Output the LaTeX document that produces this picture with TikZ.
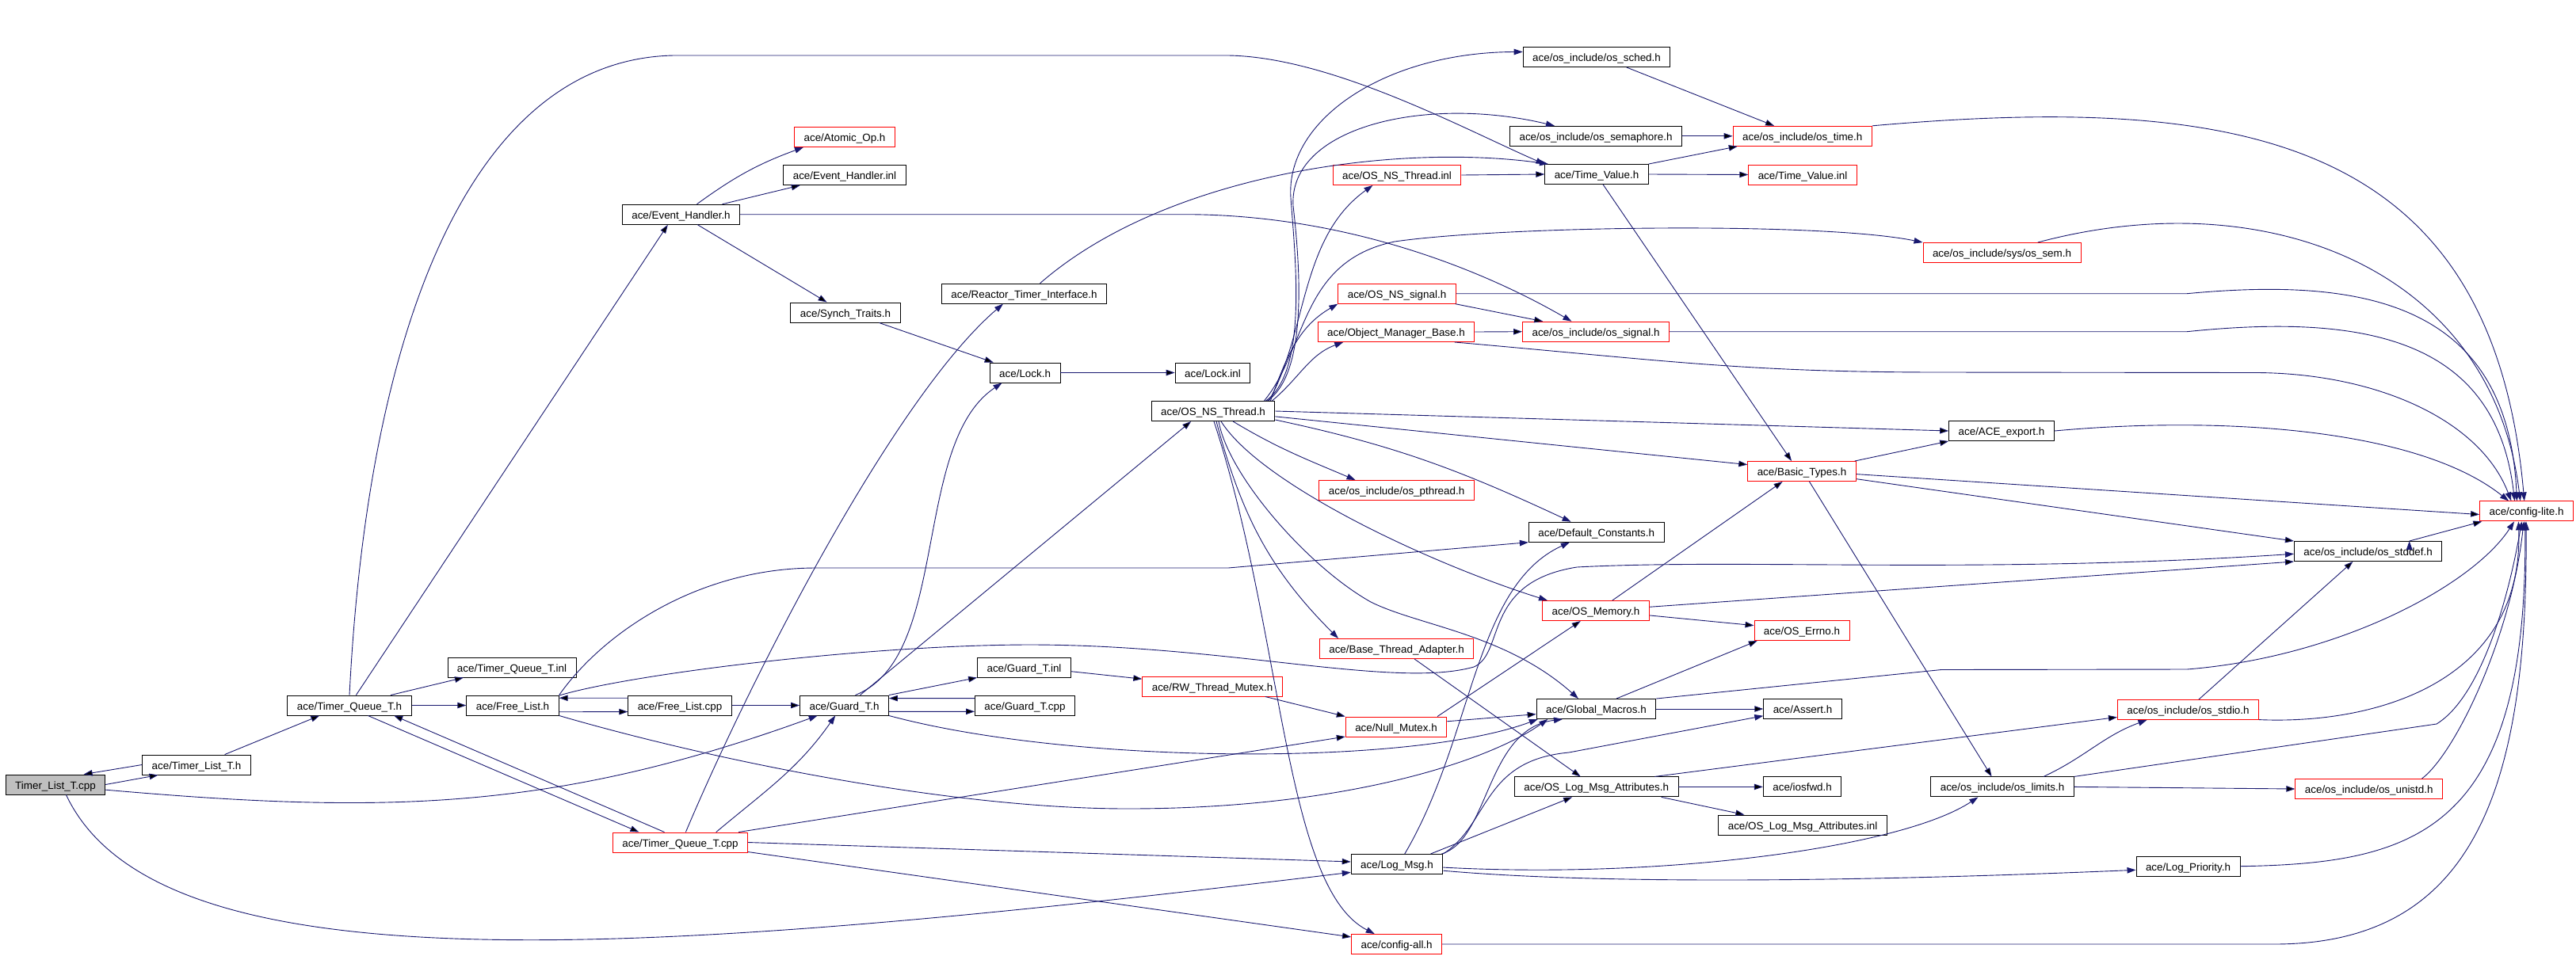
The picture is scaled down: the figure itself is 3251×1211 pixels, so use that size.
\documentclass[tikz,border=0pt]{standalone}
\usepackage{fontspec}
\setmainfont{Liberation Sans}
\usetikzlibrary{arrows.meta}
\definecolor{incl}{HTML}{191970}

\begin{document}
\begin{tikzpicture}[x=1pt, y=1pt,
    incfile/.style={draw=black, fill=white, line width=0.95pt, rectangle, minimum height=25pt,
        inner xsep=12pt, inner ysep=0pt, text height=11pt, text depth=0pt,
        font=\fontsize{13.4}{15}\selectfont},
    redinc/.style={incfile, draw=red},
    srcfile/.style={incfile, fill=black!25},
    dep/.style={draw=incl, line width=0.9pt, -{Triangle[length=11pt,width=7.5pt]}}]
    \useasboundingbox (0,0) rectangle (3251,-1211);

    \node [srcfile] (tlcpp) at (70,-990.5) {Timer\_List\_T.cpp};
    \node [incfile] (tlh) at (248,-965.5) {ace/Timer\_List\_T.h};
    \node [incfile] (tqh) at (441,-890.5) {ace/Timer\_Queue\_T.h};
    \node [incfile] (tqinl) at (646,-842.5) {ace/Timer\_Queue\_T.inl};
    \node [incfile] (flh) at (647,-890.5) {ace/Free\_List.h};
    \node [redinc] (tqcpp) at (858.5,-1063.5) {ace/Timer\_Queue\_T.cpp};
    \node [incfile] (flcpp) at (858,-890.5) {ace/Free\_List.cpp};
    \node [incfile] (gth) at (1065.5,-890.5) {ace/Guard\_T.h};
    \node [incfile] (gtinl) at (1292.5,-842.5) {ace/Guard\_T.inl};
    \node [incfile] (gtcpp) at (1293.5,-890.5) {ace/Guard\_T.cpp};
    \node [redinc] (rwm) at (1530,-866.5) {ace/RW\_Thread\_Mutex.h};
    \node [redinc] (atomic) at (1066,-173) {ace/Atomic\_Op.h};
    \node [incfile] (ehinl) at (1066,-221) {ace/Event\_Handler.inl};
    \node [incfile] (eh) at (859.5,-270.7) {ace/Event\_Handler.h};
    \node [incfile] (synch) at (1067,-394.5) {ace/Synch\_Traits.h};
    \node [incfile] (rti) at (1292.5,-370.7) {ace/Reactor\_Timer\_Interface.h};
    \node [incfile] (lockh) at (1293.6,-470.5) {ace/Lock.h};
    \node [incfile] (lockinl) at (1530.5,-470.5) {ace/Lock.inl};
    \node [incfile] (osnsth) at (1531,-519) {ace/OS\_NS\_Thread.h};
    \node [incfile] (sched) at (2015,-72) {ace/os\_include/os\_sched.h};
    \node [incfile] (sema) at (2014,-171.8) {ace/os\_include/os\_semaphore.h};
    \node [redinc] (ostime) at (2274.7,-171.8) {ace/os\_include/os\_time.h};
    \node [redinc] (nsinl) at (1763,-221) {ace/OS\_NS\_Thread.inl};
    \node [incfile] (tv) at (2015,-220) {ace/Time\_Value.h};
    \node [redinc] (tvinl) at (2275,-220.5) {ace/Time\_Value.inl};
    \node [redinc] (nssig) at (1763,-370.7) {ace/OS\_NS\_signal.h};
    \node [redinc] (omb) at (1762,-419) {ace/Object\_Manager\_Base.h};
    \node [redinc] (ossig) at (2014,-418.7) {ace/os\_include/os\_signal.h};
    \node [redinc] (ossem) at (2526.5,-319) {ace/os\_include/sys/os\_sem.h};
    \node [incfile] (export) at (2526,-544) {ace/ACE\_export.h};
    \node [redinc] (bt) at (2274,-595) {ace/Basic\_Types.h};
    \node [redinc] (pthread) at (1762.6,-619) {ace/os\_include/os\_pthread.h};
    \node [incfile] (defc) at (2014.7,-671.7) {ace/Default\_Constants.h};
    \node [redinc] (osmem) at (2014,-771) {ace/OS\_Memory.h};
    \node [redinc] (errno) at (2274,-796) {ace/OS\_Errno.h};
    \node [redinc] (bta) at (1762.6,-819) {ace/Base\_Thread\_Adapter.h};
    \node [incfile] (gm) at (2014.4,-895) {ace/Global\_Macros.h};
    \node [incfile] (assert) at (2275,-895) {ace/Assert.h};
    \node [redinc] (nullm) at (1762,-917.5) {ace/Null\_Mutex.h};
    \node [incfile] (olma) at (2014.7,-993.4) {ace/OS\_Log\_Msg\_Attributes.h};
    \node [incfile] (iosfwd) at (2274.6,-993.4) {ace/iosfwd.h};
    \node [incfile] (olmainl) at (2275,-1041.5) {ace/OS\_Log\_Msg\_Attributes.inl};
    \node [incfile] (logmsg) at (1763,-1091) {ace/Log\_Msg.h};
    \node [redinc] (cfgall) at (1762.6,-1192) {ace/config-all.h};
    \node [redinc] (cfglite) at (3188.5,-645.4) {ace/config-lite.h};
    \node [incfile] (stddef) at (2988.6,-696) {ace/os\_include/os\_stddef.h};
    \node [redinc] (stdio) at (2761.5,-896) {ace/os\_include/os\_stdio.h};
    \node [incfile] (limits) at (2527,-993.4) {ace/os\_include/os\_limits.h};
    \node [redinc] (unistd) at (2989.7,-996) {ace/os\_include/os\_unistd.h};
    \node [incfile] (logpri) at (2761.5,-1093.7) {ace/Log\_Priority.h};

    % straight includes
    \path [dep] (tlcpp.east) edge (tlh.195)
        (tlh.west) edge (tlcpp.20)
        (tlh.20) edge (tqh.199)
        (tqh.14) edge (tqinl.192)
        (tqh.east) edge (flh.west)
        (tqh.-29) edge (tqcpp.166)
        (tqcpp.147) edge (tqh.-13)
        (tqh.57) edge (eh.218)
        (eh.14) edge (ehinl.193)
        (eh.-32) edge (synch.151)
        (synch.-17) edge (lockh.162)
        (lockh.east) edge (lockinl.west)
        (tqcpp.10) edge (nullm.191)
        (tqcpp.east) edge (logmsg.177)
        (tqcpp.-8) edge (cfgall.171)
        (flh.-8) edge (flcpp.187)
        (flcpp.172) edge (flh.9)
        (flcpp.east) edge (gth.west)
        (gth.north east) edge (gtinl.south west)
        (gth.-8) edge (gtcpp.187)
        (gtcpp.172) edge (gth.9)
        (gth.33) edge (osnsth.205)
        (gtinl.-5) edge (rwm.174)
        (rwm.-11) edge (nullm.north west)
        (osnsth.east) edge (export.west)
        (osnsth.-5) edge (bt.173)
        (nsinl.east) edge (tv.west)
        (tv.east) edge (tvinl.west)
        (tv.north east) edge (ostime.189)
        (tv.-58) edge (bt.135)
        (sched.-19) edge (ostime.160)
        (sema.east) edge (ostime.west)
        (nssig.-10) edge (ossig.169)
        (omb.east) edge (ossig.west)
        (bt.-3) edge (cfglite.184)
        (bt.-8) edge (stddef.north west)
        (bt.11) edge (export.south west)
        (bt.-54) edge (limits.136)
        (osmem.32) edge (bt.208)
        (osmem.-5) edge (errno.174)
        (osmem.4) edge (stddef.south west)
        (bta.-30) edge (olma.147)
        (nullm.14) edge (osmem.214)
        (nullm.6) edge (gm.185)
        (gm.east) edge (assert.west)
        (gm.27) edge (errno.193)
        (olma.east) edge (iosfwd.west)
        (olma.-9) edge (olmainl.170)
        (olma.10) edge (stdio.186)
        (logmsg.17) edge (olma.203)
        (limits.east) edge (unistd.west)
        (stdio.44) edge (stddef.214)
        (stddef.14) edge (cfglite.193);

    % curved includes
    \draw [dep] (tlcpp.-6) to[out=-5,in=200] (gth.201);
    \draw [dep] (tlcpp.-44) .. controls (200,-1250) and (800,-1210) .. (logmsg.190);
    \draw [dep] (tqh.north) .. controls (465,-400) and (600,-75) .. (850,-70) -- (1550,-70) .. controls (1680,-72) and (1848,-163) .. (tv.169);
    \draw [dep] (eh.33) to[bend left=8] (atomic.194);
    \draw [dep] (eh.east) -- (1500,-270.7) .. controls (1700,-272) and (1870,-340) .. (ossig.157);
    \draw [dep] (rti.33) .. controls (1470,-220) and (1760,-180) .. (tv.168);
    \draw [dep] (tqcpp.62) .. controls (950,-850) and (1130,-500) .. (rti.206);
    \draw [dep] (tqcpp.16) to[out=40,in=235] (gth.229);
    \draw [dep] (flh.south east) .. controls (900,-960) and (1200,-1021) .. (1423,-1021) .. controls (1700,-1021) and (1880,-960) .. (gm.192);
    \draw [dep] (flh.north east) .. controls (760,-800) and (880,-717) .. (1030,-717) -- (1550,-717) -- (defc.south west);
    \draw [dep] (flh.12) .. controls (800,-850) and (1100,-814) .. (1300,-814) .. controls (1550,-814) and (1760,-870) .. (1860,-842) .. controls (1900,-825) and (1870,-735) .. (1990,-716) .. controls (2200,-705) and (2500,-725) .. (stddef.182);
    \draw [dep] (gth.43) .. controls (1200,-830) and (1150,-560) .. (lockh.204);
    \draw [dep] (gth.south east) .. controls (1350,-965) and (1780,-968) .. (gm.190);
    \draw [dep] ([xshift=-12pt]osnsth.north east) .. controls (1650,-470) and (1635,-330) .. (1629,-250) .. controls (1622,-150) and (1750,-66) .. (sched.176);
    \draw [dep] ([xshift=-10pt]osnsth.north east) .. controls (1652,-470) and (1640,-330) .. (1632,-260) .. controls (1626,-160) and (1800,-120) .. (sema.166);
    \draw [dep] ([xshift=-14pt]osnsth.north east) .. controls (1650,-440) and (1640,-330) .. (1760,-305) .. controls (1900,-285) and (2300,-280) .. (ossem.north west);
    \draw [dep] ([xshift=-8pt]osnsth.north east) .. controls (1650,-420) and (1640,-300) .. (nsinl.203);
    \draw [dep] ([xshift=-6pt]osnsth.north east) to[out=70,in=210] (nssig.south west);
    \draw [dep] ([xshift=-4pt]osnsth.north east) to[out=40,in=200] (omb.191);
    \draw [dep] (osnsth.-8) to[out=-12,in=155] (defc.158);
    \draw [dep] ([xshift=25pt]osnsth.south) to[out=-31,in=157] (pthread.166);
    \draw [dep] ([xshift=10pt]osnsth.south) .. controls (1590,-610) and (1800,-710) .. (osmem.168);
    \draw [dep] ([xshift=7pt]osnsth.south) .. controls (1550,-600) and (1650,-715) .. (1730,-760) .. controls (1790,-790) and (1900,-800) .. (gm.150);
    \draw [dep] ([xshift=4pt]osnsth.south) to[out=-75,in=135] (bta.170);
    \draw [dep] ([xshift=1pt]osnsth.south) .. controls (1620,-800) and (1620,-1120) .. (cfgall.155);
    \draw [dep] (ostime.north east) to[out=5,in=95,looseness=1.25] (cfglite.102);
    \draw [dep] (ossem.16) to[out=15,in=97,looseness=1.1] (cfglite.121);
    \draw [dep] (nssig.east) -- (2760,-370.7) .. controls (2980,-350) and (3165,-380) .. (cfglite.133);
    \draw [dep] (ossig.east) -- (2760,-418.7) .. controls (2990,-395) and (3150,-430) .. (cfglite.139);
    \draw [dep] (omb.-10) .. controls (2100,-455) and (2200,-470) .. (2450,-470) -- (2850,-470.5) .. controls (3000,-472) and (3130,-530) .. (cfglite.146);
    \draw [dep] (export.east) .. controls (2800,-525) and (3050,-540) .. (cfglite.150);
    \draw [dep] (gm.north east) -- (2450,-845.5) -- (2760,-845) .. controls (2950,-830) and (3120,-740) .. (cfglite.220);
    \draw [dep] (logmsg.53) .. controls (1860,-930) and (1860,-740) .. (defc.201);
    \draw [dep] ([xshift=-2pt]logmsg.north east) .. controls (1880,-1060) and (1875,-920) .. (gm.197);
    \draw [dep] (logmsg.north east) .. controls (1880,-1040) and (1870,-960) .. (1980,-950) -- (assert.190);
    \draw [dep] (logmsg.-4) .. controls (2100,-1110) and (2400,-1070) .. (limits.203);
    \draw [dep] (logmsg.-8) .. controls (2000,-1115) and (2300,-1115) .. (logpri.184);
    \draw [dep] (cfgall.east) -- (2870,-1192) .. controls (3120,-1192) and (3190,-1000) .. (cfglite.268);
    \draw [dep] (limits.14) to[out=25,in=200] (stdio.194);
    \draw [dep] (limits.north east) -- (3075,-914) .. controls (3130,-880) and (3165,-760) .. (cfglite.245);
    \draw [dep] (unistd.11) .. controls (3100,-950) and (3170,-800) .. (cfglite.255);
    \draw [dep] (stdio.-8) .. controls (3000,-915) and (3185,-860) .. (cfglite.232);
    \draw [dep] (logpri.east) .. controls (3050,-1090) and (3190,-1050) .. (cfglite.262);
\end{tikzpicture}
\end{document}
